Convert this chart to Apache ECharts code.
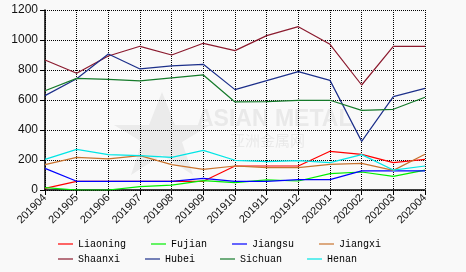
<!DOCTYPE html>
<html><head><meta charset="utf-8">
<script src="https://cdn.jsdelivr.net/npm/echarts@6/dist/echarts.min.js"></script>
<style>html,body{margin:0;padding:0;background:#f9f9f9}#c{width:466px;height:272px}</style>
</head><body><div id="c"></div>
<script>
var categories = ['201904','201905','201906','201907','201908','201909','201910','201911','201912','202001','202002','202003','202004'];
var yTicks = [0,200,400,600,800,1000,1200];
var liaoning = [11,58,58,58,58,58,160,160,160,258,238,182,204];
var fujian   = [16,0,0,22,33,62,49,67,60,109,120,91,133];
var jiangsu  = [144,58,58,58,58,78,58,58,69,69,127,127,127];
var jiangxi  = [169,218,207,229,169,138,160,149,149,171,178,131,238];
var shaanxi  = [867,778,893,958,900,978,929,1029,1089,971,700,958,958];
var hubei    = [629,742,907,807,827,838,669,729,789,731,324,622,678];
var sichuan  = [662,744,738,727,747,767,587,589,598,598,531,538,618];
var henan    = [204,271,236,229,218,264,198,189,196,182,236,133,160];

var names = ['Liaoning','Fujian','Jiangsu','Jiangxi','Shaanxi','Hubei','Sichuan','Henan'];
var colors = ['#ff0000','#00ee00','#0000ff','#c8732e','#8b1a2e','#1c2f8a','#157a2a','#00e5e5'];
var datas = [liaoning,fujian,jiangsu,jiangxi,shaanxi,hubei,sichuan,henan];

var series = names.map(function(n,i){
  return {name:n,type:'line',data:datas[i],showSymbol:false,symbol:'none',
    lineStyle:{width:1.2,color:colors[i]},itemStyle:{color:colors[i]},z:2+i, silent:true};
});

var legendBase = {
  left:53, orient:'horizontal', itemWidth:15, itemHeight:1.2, itemGap:25, icon:'rect',
  textStyle:{fontFamily:'Liberation Mono',fontSize:10,color:'#000',padding:[0,0,0,0]},
  selectedMode:false
};

var chart = echarts.init(document.getElementById('c'),null,{renderer:'canvas'});
chart.setOption({
  backgroundColor:'#f9f9f9',
  animation:false,
  grid:{left:45,right:41,top:10,bottom:82,containLabel:false},
  legend:[
    Object.assign({},legendBase,{top:234,data:names.slice(0,4)}),
    Object.assign({},legendBase,{top:249,data:names.slice(4)})
  ],
  graphic:[
    {type:'polygon',z:0,silent:true,shape:{points:[[162,92],[175,125],[210,125],[182,142],[193,175],[162,155],[131,175],[142,142],[114,125],[149,125]]},style:{fill:'#ebebeb'}},
    {type:'text',z:0,silent:true,left:197,top:108,style:{text:'ASIAN METAL',fontFamily:'Arial',fontWeight:'bold',fontSize:23,fill:'#e9e9e9'}},
    {type:'text',z:0,silent:true,left:230,top:133,style:{text:'亚洲金属网',fontFamily:'Noto Sans CJK SC',fontSize:15,fill:'#e9e9e9'}}
  ],
  xAxis:{type:'category',data:categories,boundaryGap:false,
    axisLine:{lineStyle:{color:'#000',width:1.5}},
    axisTick:{show:true,alignWithLabel:true,length:5,lineStyle:{color:'#000'}},
    axisLabel:{rotate:45,fontSize:11,fontFamily:'Arial',color:'#111',margin:6,interval:0},
    splitLine:{show:true,lineStyle:{type:'dotted',color:'#000',width:1}}
  },
  yAxis:{type:'value',min:yTicks[0],max:yTicks[yTicks.length-1],interval:200,
    axisLine:{show:true,lineStyle:{color:'#000',width:1.5}},
    axisTick:{show:true,length:5,lineStyle:{color:'#000'}},
    axisLabel:{fontSize:12,fontFamily:'Arial',color:'#111',margin:7,formatter:function(v){return String(v);}},
    splitLine:{show:true,lineStyle:{type:'dotted',color:'#000',width:1}}
  },
  series:series
});
</script></body></html>
